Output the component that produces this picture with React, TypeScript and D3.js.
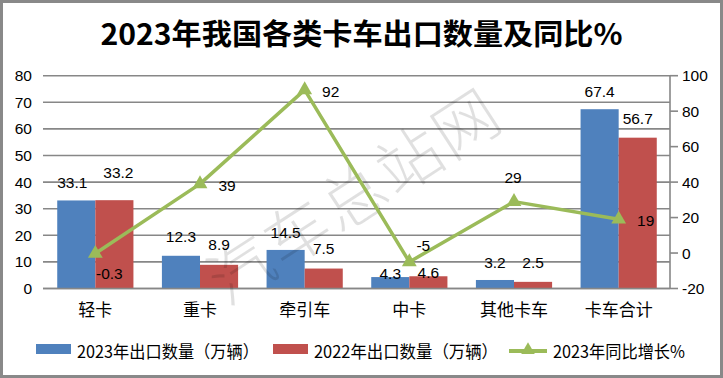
import React from "react";
import * as d3 from "d3";

const categories = ["轻卡", "重卡", "牵引车", "中卡", "其他卡车", "卡车合计"];
const exports2023 = [33.1, 12.3, 14.5, 4.3, 3.2, 67.4];
const exports2022 = [33.2, 8.9, 7.5, 4.6, 2.5, 56.7];
const growth2023 = [-0.3, 39, 92, -5, 29, 19];
const leftTicks = [0, 10, 20, 30, 40, 50, 60, 70, 80];
const rightTicks = [-20, 0, 20, 40, 60, 80, 100];
const seriesNames = ["2023年出口数量（万辆）", "2022年出口数量（万辆）", "2023年同比增长%"];
const title = "2023年我国各类卡车出口数量及同比%";
const watermark = "汽车总站网";

// label placement (style)
const blueLabelOffset = [[-4, -18], [0, -19], [0, -17], [0, -4], [0, -17], [0, -18]];
const redLabelOffset = [[4, -28], [0, -20], [0, -20], [0, -4], [0, -19], [0, -19]];
const growthLabelOffset = [[14, 20], [27, 2], [26, 2], [14, -16], [-1, -24], [27, 1]];

const W = 723, H = 378;
const plotL = 43, plotR = 670, plotT = 75.7, plotB = 288.5;
const BLUE = "#4F81BD", RED = "#C0504D", GREEN = "#9BBB59", GRID = "#878787";
const NUM_FONT = "'Liberation Sans', Arial, sans-serif";
const CJK_FONT = "'Noto Sans CJK SC', 'Noto Sans', sans-serif";

export default function App() {
  const x = d3.scaleBand<string>().domain(categories).range([plotL, plotR + 1]).padding(0);
  const yL = d3.scaleLinear().domain([0, 80]).range([plotB, plotT]);
  const yR = d3.scaleLinear().domain([-20, 100]).range([plotB, plotT]);
  const bw = x.bandwidth() * 0.364;
  const cx = (c: string) => (x(c) as number) + x.bandwidth() / 2;

  const line = d3
    .line<number>()
    .x((_, i) => cx(categories[i]))
    .y((d) => yR(d));

  const tri = d3.symbol().type(d3.symbolTriangle).size(95)() as string;
  const triLegend = d3.symbol().type(d3.symbolTriangle).size(80)() as string;

  return (
    <svg width={W} height={H} style={{ position: "absolute", left: 0, top: 0, background: "#fff" }}>
      <rect x={1.5} y={1.5} width={W - 3} height={H - 3} fill="#fff" stroke="#898989" strokeWidth={3} />
      <text x={W / 2} y={32} textAnchor="middle" dominantBaseline="central" fontFamily={CJK_FONT}
        fontWeight="bold" fontSize={29} textLength={522} lengthAdjust="spacingAndGlyphs" fill="#000">
        {title}
      </text>

      {/* gridlines */}
      {leftTicks.map((t) => (
        <line key={"g" + t} x1={plotL} x2={plotR} y1={yL(t)} y2={yL(t)} stroke={GRID} strokeWidth={1.6} />
      ))}
      {leftTicks.map((t) => (
        <text key={"lt" + t} x={32} y={yL(t)} textAnchor="end" dominantBaseline="central"
          fontFamily={NUM_FONT} fontSize={15.5} fill="#000">{t}</text>
      ))}
      {/* right axis */}
      <line x1={plotR} x2={plotR} y1={plotT} y2={plotB} stroke={GRID} strokeWidth={1.6} />
      {rightTicks.map((t) => (
        <g key={"rt" + t}>
          <line x1={plotR} x2={plotR + 8} y1={yR(t)} y2={yR(t)} stroke={GRID} strokeWidth={1.6} />
          <text x={682} y={yR(t)} dominantBaseline="central" fontFamily={NUM_FONT} fontSize={15.5} fill="#000">{t}</text>
        </g>
      ))}

      {/* bars */}
      {categories.map((c, i) => (
        <g key={"b" + c}>
          <rect x={cx(c) - bw} y={yL(exports2023[i])} width={bw} height={yL(0) - yL(exports2023[i])} fill={BLUE} />
          <rect x={cx(c)} y={yL(exports2022[i])} width={bw} height={yL(0) - yL(exports2022[i])} fill={RED} />
        </g>
      ))}
      <line x1={plotL} x2={plotR} y1={plotB} y2={plotB} stroke={GRID} strokeWidth={1.6} />

      {/* bar labels */}
      {categories.map((c, i) => (
        <g key={"bl" + c} fontFamily={NUM_FONT} fontSize={15.5} fill="#000">
          <text x={cx(c) - bw / 2 + blueLabelOffset[i][0]} y={yL(exports2023[i]) + blueLabelOffset[i][1]}
            textAnchor="middle" dominantBaseline="central">{exports2023[i]}</text>
          <text x={cx(c) + bw / 2 + redLabelOffset[i][0]} y={yL(exports2022[i]) + redLabelOffset[i][1]}
            textAnchor="middle" dominantBaseline="central">{exports2022[i]}</text>
        </g>
      ))}

      {/* watermark */}
      <text x={352} y={192} textAnchor="middle" dominantBaseline="central" fontFamily={CJK_FONT}
        fontSize={64} fontWeight={300} fill="#000" fillOpacity={0.12} letterSpacing={3}
        transform="rotate(-33 352 192)">{watermark}</text>

      {/* line */}
      <path d={line(growth2023) as string} fill="none" stroke={GREEN} strokeWidth={3.5} strokeLinejoin="round" />
      {growth2023.map((v, i) => (
        <path key={"m" + i} d={tri} transform={`translate(${cx(categories[i])},${yR(v)})`} fill={GREEN} />
      ))}
      {growth2023.map((v, i) => (
        <text key={"gl" + i} x={cx(categories[i]) + growthLabelOffset[i][0]} y={yR(v) + growthLabelOffset[i][1]}
          textAnchor="middle" dominantBaseline="central" fontFamily={NUM_FONT} fontSize={15.5} fill="#000">{v}</text>
      ))}

      {/* category labels */}
      {categories.map((c) => (
        <text key={"c" + c} x={cx(c)} y={308} textAnchor="middle" dominantBaseline="central"
          fontFamily={CJK_FONT} fontSize={17} fill="#000">{c}</text>
      ))}

      {/* legend */}
      <rect x={36} y={344} width={35} height={10} fill={BLUE} />
      <text x={77} y={350} dominantBaseline="central" fontFamily={CJK_FONT} fontSize={17}
        textLength={182} lengthAdjust="spacingAndGlyphs" fill="#000">{seriesNames[0]}</text>
      <rect x={273} y={344} width={35} height={10} fill={RED} />
      <text x={314} y={350} dominantBaseline="central" fontFamily={CJK_FONT} fontSize={17}
        textLength={184} lengthAdjust="spacingAndGlyphs" fill="#000">{seriesNames[1]}</text>
      <line x1={509} x2={547} y1={351} y2={351} stroke={GREEN} strokeWidth={4} />
      <path d={triLegend} transform="translate(528,350)" fill={GREEN} />
      <text x={553} y={350} dominantBaseline="central" fontFamily={CJK_FONT} fontSize={17}
        textLength={132} lengthAdjust="spacingAndGlyphs" fill="#000">{seriesNames[2]}</text>
    </svg>
  );
}
